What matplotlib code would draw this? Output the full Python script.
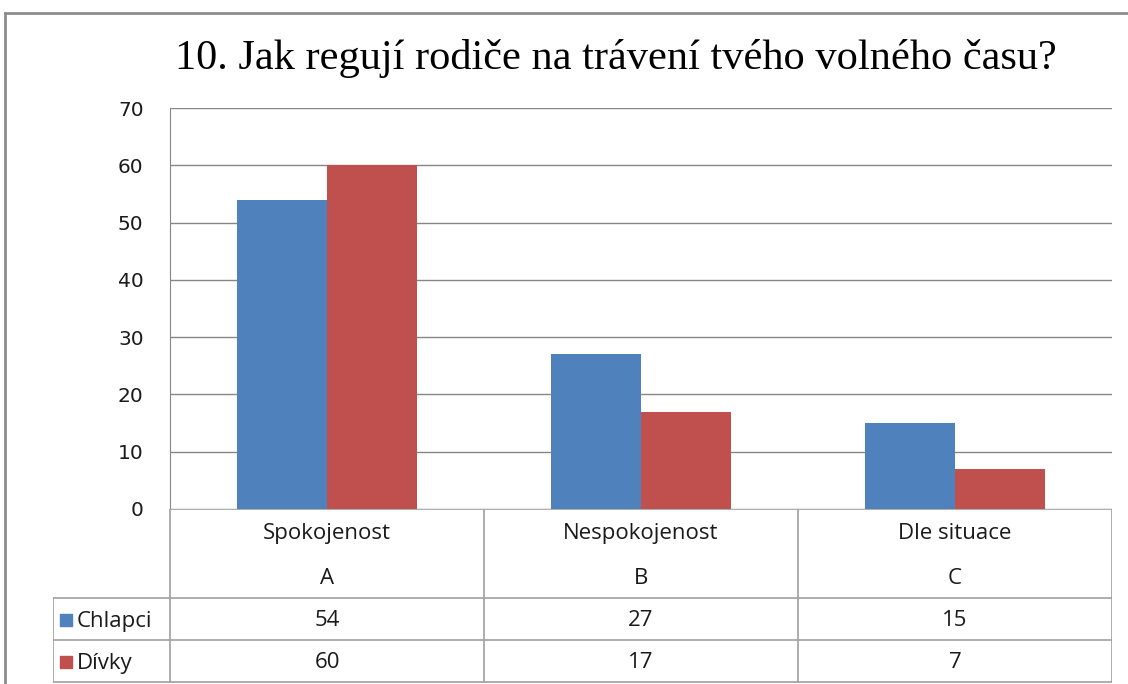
import numpy as np
import matplotlib.pyplot as plt

categories = ['Spokojenost', 'Nespokojenost', 'Dle situace']
letters = ['A', 'B', 'C']
series = ['Chlapci', 'Dívky']
chlapci = [54, 27, 15]
divky = [60, 17, 7]
colors = ['#4F81BD', '#C0504D']
title = '10. Jak regují rodiče na trávení tvého volného času?'

W, H = 1128, 684
fig = plt.figure(figsize=(W / 100, H / 100), dpi=100)

def box(x0, y0, x1, y1):
    # pixel box (top-left origin) -> figure fraction
    return [x0 / W, 1 - y1 / H, (x1 - x0) / W, (y1 - y0) / H]

# outer frame
frame = fig.add_axes([0, 0, 1, 1])
frame.set_xlim(0, W)
frame.set_ylim(H, 0)
frame.axis('off')
frame.plot([5, W], [13, 13], color='#8c8c8c', lw=2)
frame.plot([5, 5], [13, H], color='#8c8c8c', lw=2)

fig.text(616 / W, 1 - 58 / H, title, ha='center', va='center',
         fontsize=30.5, family='Liberation Serif')

# bars
ax = fig.add_axes(box(170, 108, 1112, 509))
x = np.arange(len(categories)) + 0.5
bw = 0.287
ax.bar(x - bw / 2, chlapci, bw, color=colors[0], zorder=3)
ax.bar(x + bw / 2, divky, bw, color=colors[1], zorder=3)
ax.set_xlim(0, 3)
ax.set_ylim(0, 70)
ax.set_yticks(range(0, 71, 10))
ax.set_xticks([])
ax.yaxis.grid(True, color='#868686', lw=1)
for s in ['top', 'right', 'bottom']:
    ax.spines[s].set_visible(False)
ax.spines['left'].set_color('#868686')
ax.tick_params(axis='y', length=0, pad=19, labelsize=14.5, labelcolor='#1a1a1a')
for t in ax.get_yticklabels():
    t.set_family('DejaVu Sans')

# data table
tb = fig.add_axes(box(53, 509, 1112, 684))
left = -(170 - 53) / 314
tb.set_xlim(left, 3)
tb.set_ylim(175, 0)
tb.axis('off')
lc = '#a0a0a0'
ys = [0, 89, 131, 173]
for yy in ys[1:]:
    tb.plot([left, 3], [yy, yy], color=lc, lw=1.2)
tb.plot([0, 3], [0, 0], color=lc, lw=1.2)
tb.plot([left, left], [89, 173], color=lc, lw=1.2)
for i in range(4):
    tb.plot([i, i], [0, 173], color=lc, lw=1.2)
tf = 'Open Sans'
fs = 16
for i, (c, l) in enumerate(zip(categories, letters)):
    tb.text(i + 0.5, 24.5, c, ha='center', va='center', fontsize=fs, family=tf, color='#1a1a1a')
    tb.text(i + 0.5, 69, l, ha='center', va='center', fontsize=fs, family=tf, color='#1a1a1a')
rows = [chlapci, divky]
for r, (name, vals, col) in enumerate(zip(series, rows, colors)):
    yc = (ys[r + 1] + ys[r + 2]) / 2 + 2
    tb.scatter([left + 0.04], [yc - 1.5], marker='s', s=85, color=col)
    tb.text(left + 0.075, yc, name, ha='left', va='center', fontsize=fs, family=tf, color='#1a1a1a')
    for i, v in enumerate(vals):
        tb.text(i + 0.5, yc, str(v), ha='center', va='center', fontsize=fs, family=tf, color='#1a1a1a')

fig.savefig('out.png', dpi=100)
